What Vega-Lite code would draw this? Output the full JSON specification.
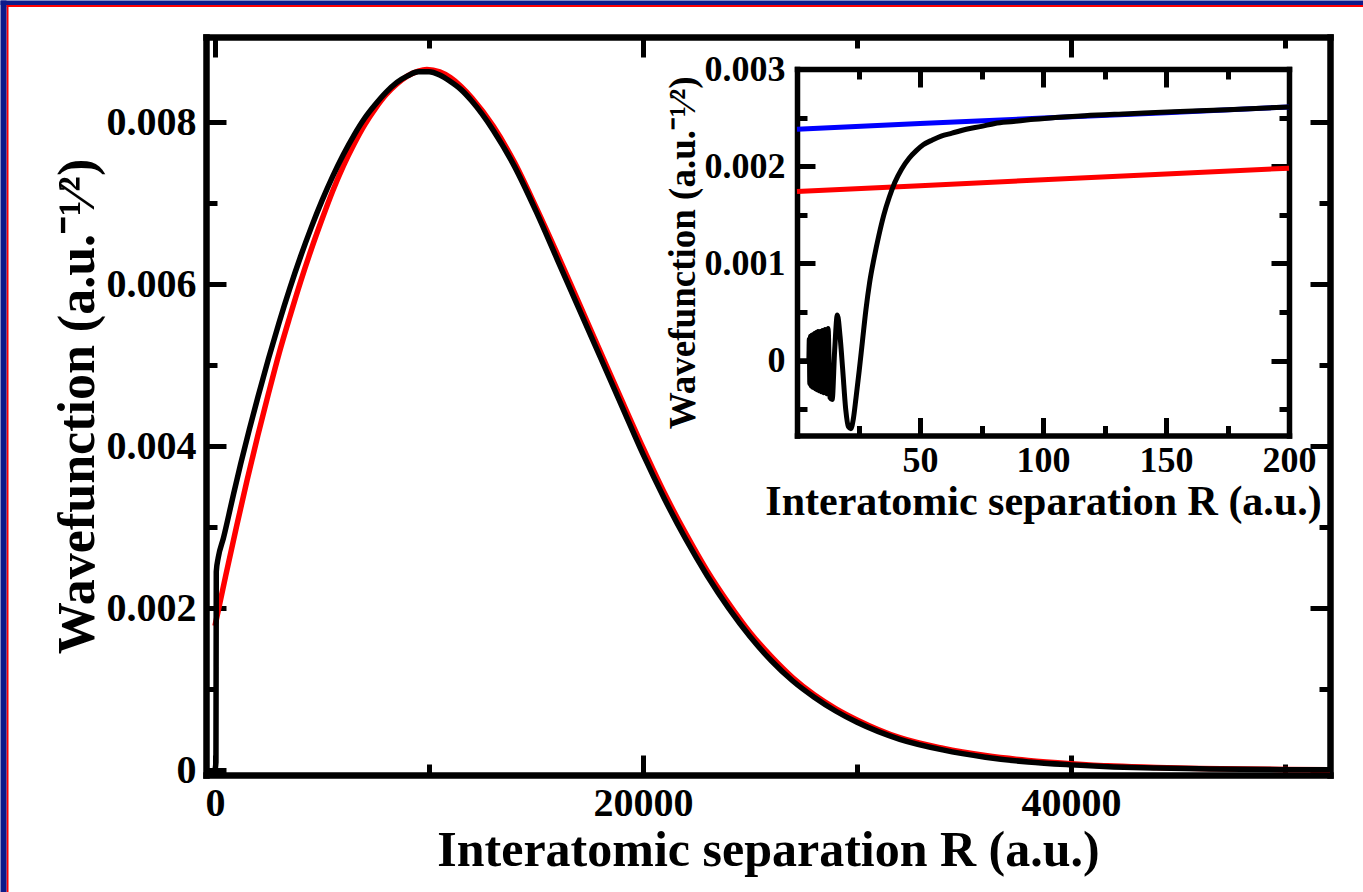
{
  "$schema": "https://vega.github.io/schema/vega-lite/v6.json",
  "width": 1124,
  "height": 738,
  "autosize": {"type": "none"},
  "padding": {"left": 206, "top": 37, "right": 33, "bottom": 117},
  "background": "white",
  "config": {
    "view": {"stroke": null},
    "axis": {
      "grid": false,
      "zindex": 1,
      "domainColor": "black",
      "tickColor": "black",
      "tickWidth": 5,
      "labelColor": "black",
      "labelFont": "Liberation Serif",
      "labelFontWeight": "bold",
      "titleColor": "black",
      "titleFont": "Liberation Serif",
      "titleFontWeight": "bold",
      "labelFlush": false,
      "labelOverlap": false,
      "domainCap": "square"
    }
  },
  "datasets": {
    "frame": [{"u": 0, "v": 0}, {"u": 1, "v": 1}],
    "main_red": [
      {"R": 0, "psi": 0.00178}, {"R": 500, "psi": 0.0024}, {"R": 1000, "psi": 0.003}, {"R": 1500, "psi": 0.00358},
      {"R": 2000, "psi": 0.00413}, {"R": 2500, "psi": 0.00465}, {"R": 3000, "psi": 0.00515}, {"R": 3500, "psi": 0.0056},
      {"R": 4000, "psi": 0.00603}, {"R": 4500, "psi": 0.00643}, {"R": 5000, "psi": 0.0068}, {"R": 5500, "psi": 0.00715},
      {"R": 6000, "psi": 0.00746}, {"R": 6500, "psi": 0.00773}, {"R": 7000, "psi": 0.00797}, {"R": 7500, "psi": 0.00817},
      {"R": 8000, "psi": 0.00834}, {"R": 8500, "psi": 0.00847}, {"R": 9000, "psi": 0.00857}, {"R": 9500, "psi": 0.00863},
      {"R": 9900, "psi": 0.00865}, {"R": 10500, "psi": 0.00862}, {"R": 11000, "psi": 0.00855}, {"R": 11500, "psi": 0.00844},
      {"R": 12000, "psi": 0.0083}, {"R": 13000, "psi": 0.00795}, {"R": 14000, "psi": 0.0075}, {"R": 15000, "psi": 0.00695},
      {"R": 16000, "psi": 0.00637}, {"R": 17000, "psi": 0.00577}, {"R": 18000, "psi": 0.00517}, {"R": 19000, "psi": 0.00457},
      {"R": 20000, "psi": 0.00398}, {"R": 21000, "psi": 0.00342}, {"R": 22000, "psi": 0.00292}, {"R": 23000, "psi": 0.00246},
      {"R": 24000, "psi": 0.00206}, {"R": 25000, "psi": 0.0017}, {"R": 26000, "psi": 0.0014}, {"R": 27000, "psi": 0.00114},
      {"R": 28000, "psi": 0.00093}, {"R": 29000, "psi": 0.00076}, {"R": 30000, "psi": 0.00062}, {"R": 32000, "psi": 0.0004},
      {"R": 34000, "psi": 0.00027}, {"R": 36000, "psi": 0.00018}, {"R": 38000, "psi": 0.00012}, {"R": 40000, "psi": 0.00008},
      {"R": 42000, "psi": 0.00005}, {"R": 44000, "psi": 0.000032}, {"R": 46000, "psi": 0.00002}, {"R": 48000, "psi": 0.000013},
      {"R": 50000, "psi": 0.000008}, {"R": 52100, "psi": 0.000005}
    ],
    "main_black": [
      {"R": 0, "psi": 0}, {"R": 45, "psi": 0.0001}, {"R": 60, "psi": 0.00245}, {"R": 150, "psi": 0.00262},
      {"R": 400, "psi": 0.00287}, {"R": 800, "psi": 0.00333}, {"R": 1200, "psi": 0.00378}, {"R": 1600, "psi": 0.0042},
      {"R": 2000, "psi": 0.0046}, {"R": 2500, "psi": 0.00508}, {"R": 3000, "psi": 0.00553}, {"R": 3500, "psi": 0.00595},
      {"R": 4000, "psi": 0.00634}, {"R": 4500, "psi": 0.0067}, {"R": 5000, "psi": 0.00703}, {"R": 5500, "psi": 0.00733},
      {"R": 6000, "psi": 0.0076}, {"R": 6500, "psi": 0.00784}, {"R": 7000, "psi": 0.00805}, {"R": 7500, "psi": 0.00822},
      {"R": 8000, "psi": 0.00837}, {"R": 8500, "psi": 0.00849}, {"R": 9000, "psi": 0.00857}, {"R": 9500, "psi": 0.00862},
      {"R": 10000, "psi": 0.00862}, {"R": 10500, "psi": 0.00858}, {"R": 11000, "psi": 0.0085}, {"R": 11500, "psi": 0.0084},
      {"R": 12000, "psi": 0.00826}, {"R": 13000, "psi": 0.0079}, {"R": 14000, "psi": 0.00745}, {"R": 15000, "psi": 0.0069},
      {"R": 16000, "psi": 0.0063}, {"R": 17000, "psi": 0.0057}, {"R": 18000, "psi": 0.0051}, {"R": 19000, "psi": 0.0045},
      {"R": 20000, "psi": 0.0039}, {"R": 21000, "psi": 0.00335}, {"R": 22000, "psi": 0.00285}, {"R": 23000, "psi": 0.0024},
      {"R": 24000, "psi": 0.002}, {"R": 25000, "psi": 0.00165}, {"R": 26000, "psi": 0.00135}, {"R": 27000, "psi": 0.0011},
      {"R": 28000, "psi": 0.0009}, {"R": 29000, "psi": 0.00073}, {"R": 30000, "psi": 0.00059}, {"R": 32000, "psi": 0.00038},
      {"R": 34000, "psi": 0.00025}, {"R": 36000, "psi": 0.00016}, {"R": 38000, "psi": 0.0001}, {"R": 40000, "psi": 0.000065},
      {"R": 42000, "psi": 0.00004}, {"R": 44000, "psi": 0.000025}, {"R": 46000, "psi": 0.000016}, {"R": 48000, "psi": 0.00001},
      {"R": 50000, "psi": 0.000006}, {"R": 52100, "psi": 0.000004}
    ],
    "inset_red": [
      {"R": 0, "psi": 0.00174}, {"R": 50, "psi": 0.0018}, {"R": 100, "psi": 0.00186}, {"R": 150, "psi": 0.00192}, {"R": 200, "psi": 0.00198}
    ],
    "inset_blue": [
      {"R": 0, "psi": 0.00238}, {"R": 50, "psi": 0.00244}, {"R": 100, "psi": 0.002495}, {"R": 150, "psi": 0.00255}, {"R": 200, "psi": 0.00261}
    ],
    "inset_black": [
      {"R": 0, "psi": 0}, {"R": 4.8, "psi": 0},
      {"R": 5.0, "psi": 0.00022}, {"R": 5.2, "psi": -0.00024}, {"R": 5.45, "psi": 0.00025}, {"R": 5.7, "psi": -0.00026},
      {"R": 5.95, "psi": 0.00026}, {"R": 6.2, "psi": -0.00027}, {"R": 6.5, "psi": 0.00027}, {"R": 6.8, "psi": -0.00028},
      {"R": 7.1, "psi": 0.00028}, {"R": 7.45, "psi": -0.00029}, {"R": 7.8, "psi": 0.00029}, {"R": 8.15, "psi": -0.0003},
      {"R": 8.55, "psi": 0.0003}, {"R": 8.95, "psi": -0.00031}, {"R": 9.4, "psi": 0.0003}, {"R": 9.85, "psi": -0.00032},
      {"R": 10.35, "psi": 0.00031}, {"R": 10.85, "psi": -0.00033}, {"R": 11.4, "psi": 0.00032}, {"R": 12.0, "psi": -0.00034},
      {"R": 12.65, "psi": 0.00033}, {"R": 13.4, "psi": -0.00038}, {"R": 14.3, "psi": -0.0004},
      {"R": 15.3, "psi": 0.0001}, {"R": 16.4, "psi": 0.00047}, {"R": 17.5, "psi": 0.00025}, {"R": 18.6, "psi": -0.0001},
      {"R": 19.8, "psi": -0.0005}, {"R": 20.9, "psi": -0.00068}, {"R": 21.9, "psi": -0.0007}, {"R": 22.9, "psi": -0.0006},
      {"R": 24.0, "psi": -0.00038}, {"R": 25.3, "psi": -0.0001}, {"R": 26.6, "psi": 0.0002}, {"R": 28.0, "psi": 0.00052},
      {"R": 29.5, "psi": 0.0008}, {"R": 31.3, "psi": 0.00105}, {"R": 33.2, "psi": 0.00128}, {"R": 35.3, "psi": 0.0015},
      {"R": 37.5, "psi": 0.00168}, {"R": 39.7, "psi": 0.00183}, {"R": 42.5, "psi": 0.00197}, {"R": 45.5, "psi": 0.00208},
      {"R": 48.5, "psi": 0.00216}, {"R": 51.3, "psi": 0.00222}, {"R": 55, "psi": 0.00227}, {"R": 58.6, "psi": 0.00231},
      {"R": 63, "psi": 0.00234}, {"R": 68.8, "psi": 0.00238}, {"R": 75, "psi": 0.00241}, {"R": 80.4, "psi": 0.00244},
      {"R": 88, "psi": 0.00246}, {"R": 95, "psi": 0.00248}, {"R": 105, "psi": 0.0025}, {"R": 117, "psi": 0.00252},
      {"R": 135, "psi": 0.00254}, {"R": 153, "psi": 0.00256}, {"R": 175, "psi": 0.00258}, {"R": 200, "psi": 0.00261}
    ]
  },
  "layer": [
    {
      "data": {"name": "frame"},
      "mark": {"type": "point", "opacity": 0},
      "encoding": {
        "x": {"field": "u", "type": "quantitative",
          "scale": {"domain": [0, 1], "range": [-200, 1157], "nice": false, "zero": false},
          "axis": {"orient": "top", "offset": 31.5, "ticks": false, "labels": false, "title": null,
            "domainColor": "#ff0000", "domainWidth": 2, "domainCap": "butt", "zindex": 2}},
        "y": {"field": "v", "type": "quantitative",
          "scale": {"domain": [0, 1], "range": [855, -32.5], "nice": false, "zero": false},
          "axis": {"orient": "left", "offset": 199, "ticks": false, "labels": false, "title": null,
            "domainColor": "#ff0000", "domainWidth": 2, "domainCap": "butt", "zindex": 2}}
      }
    },
    {
      "data": {"name": "frame"},
      "mark": {"type": "point", "opacity": 0},
      "encoding": {
        "x": {"field": "u", "type": "quantitative",
          "scale": {"domain": [0, 1], "range": [-206, 1157], "nice": false, "zero": false},
          "axis": {"orient": "top", "offset": 34.75, "ticks": false, "labels": false, "title": null,
            "domainColor": "#0e1a8a", "domainWidth": 4.5, "domainCap": "butt", "zindex": 3}},
        "y": {"field": "v", "type": "quantitative",
          "scale": {"domain": [0, 1], "range": [855, -37], "nice": false, "zero": false},
          "axis": {"orient": "left", "offset": 203, "ticks": false, "labels": false, "title": null,
            "domainColor": "#0e1a8a", "domainWidth": 6, "domainCap": "butt", "zindex": 3}}
      }
    },
    {
      "layer": [
        {
          "data": {"name": "main_red"},
          "mark": {"type": "line", "color": "#ff0000", "strokeWidth": 5.5, "interpolate": "monotone"},
          "encoding": {
            "x": {"field": "R", "type": "quantitative",
              "scale": {"domain": [-420, 52100], "nice": false, "zero": false},
              "axis": {"orient": "bottom", "values": [0, 20000, 40000], "format": "d",
                "tickSize": -20, "domainWidth": 6.5, "labelPadding": 28, "labelFontSize": 40,
                "title": "Interatomic separation R (a.u.)", "titleFontSize": 50, "titlePadding": 2}},
            "y": {"field": "psi", "type": "quantitative",
              "scale": {"domain": [-0.00006, 0.00905], "nice": false, "zero": false},
              "axis": {"orient": "left", "values": [0, 0.002, 0.004, 0.006, 0.008],
                "labelExpr": "datum.value == 0 ? '0' : format(datum.value, '.3f')",
                "tickSize": -20, "domainWidth": 6.5, "labelPadding": 30, "labelFontSize": 40,
                "title": "Wavefunction (a.u.⁻¹⁄²)", "titleFontSize": 52, "titlePadding": 2}}
          }
        },
        {
          "data": {"name": "main_black"},
          "mark": {"type": "line", "color": "black", "strokeWidth": 5.5, "interpolate": "monotone"},
          "encoding": {
            "x": {"field": "R", "type": "quantitative",
              "axis": {"orient": "bottom", "values": [10000, 30000, 50000], "labels": false, "domain": false,
                "tickSize": -11, "title": null}},
            "y": {"field": "psi", "type": "quantitative",
              "axis": {"orient": "left", "values": [0.001, 0.003, 0.005, 0.007], "labels": false, "domain": false,
                "tickSize": -11, "title": null}}
          }
        },
        {
          "data": {"name": "main_black"},
          "mark": {"type": "point", "opacity": 0},
          "encoding": {
            "x": {"field": "R", "type": "quantitative",
              "axis": {"orient": "top", "values": [0, 20000, 40000], "labels": false, "domainWidth": 6.5,
                "tickSize": -20, "title": null}},
            "y": {"field": "psi", "type": "quantitative",
              "axis": {"orient": "right", "values": [0, 0.002, 0.004, 0.006, 0.008], "labels": false, "domainWidth": 6.5,
                "tickSize": -20, "title": null}}
          }
        },
        {
          "data": {"name": "main_black"},
          "mark": {"type": "point", "opacity": 0},
          "encoding": {
            "x": {"field": "R", "type": "quantitative",
              "axis": {"orient": "top", "values": [10000, 30000, 50000], "labels": false, "domain": false,
                "tickSize": -11, "title": null}},
            "y": {"field": "psi", "type": "quantitative",
              "axis": {"orient": "right", "values": [0.001, 0.003, 0.005, 0.007], "labels": false, "domain": false,
                "tickSize": -11, "title": null}}
          }
        }
      ],
      "resolve": {"axis": {"x": "independent", "y": "independent"}}
    },
    {
      "layer": [
        {
          "data": {"name": "inset_red"},
          "mark": {"type": "line", "color": "#ff0000", "strokeWidth": 5},
          "encoding": {
            "x": {"field": "R", "type": "quantitative",
              "scale": {"domain": [0, 200], "range": [591, 1083], "nice": false, "zero": false},
              "axis": {"orient": "bottom", "offset": -339.5, "values": [50, 100, 150, 200], "format": "d",
                "tickSize": -18, "domainWidth": 5.5, "labelPadding": 26, "labelFontSize": 36,
                "title": "Interatomic separation R (a.u.)", "titleFontSize": 42, "titlePadding": 3}},
            "y": {"field": "psi", "type": "quantitative",
              "scale": {"domain": [-0.00077, 0.003], "range": [398.5, 32], "nice": false, "zero": false},
              "axis": {"orient": "left", "offset": -591, "values": [0, 0.001, 0.002, 0.003],
                "labelExpr": "datum.value == 0 ? '0' : format(datum.value, '.3f')",
                "tickSize": -18, "domainWidth": 5.5, "labelPadding": 30, "labelFontSize": 36,
                "title": "Wavefunction (a.u.⁻¹⁄²)", "titleFontSize": 37, "titlePadding": 2}}
          }
        },
        {
          "data": {"name": "inset_blue"},
          "mark": {"type": "line", "color": "#0000ff", "strokeWidth": 5},
          "encoding": {
            "x": {"field": "R", "type": "quantitative",
              "axis": {"orient": "bottom", "offset": -339.5, "values": [25, 75, 125, 175], "labels": false, "domain": false,
                "tickSize": -10, "title": null}},
            "y": {"field": "psi", "type": "quantitative",
              "axis": {"orient": "left", "offset": -591, "values": [-0.0005, 0.0005, 0.0015, 0.0025], "labels": false, "domain": false,
                "tickSize": -10, "title": null}}
          }
        },
        {
          "data": {"name": "inset_black"},
          "mark": {"type": "line", "color": "black", "strokeWidth": 5, "interpolate": "monotone"},
          "encoding": {
            "x": {"field": "R", "type": "quantitative",
              "axis": {"orient": "top", "offset": -32, "values": [50, 100, 150, 200], "labels": false, "domainWidth": 5.5,
                "tickSize": -18, "title": null}},
            "y": {"field": "psi", "type": "quantitative",
              "axis": {"orient": "right", "offset": -41, "values": [0, 0.001, 0.002, 0.003], "labels": false, "domainWidth": 5.5,
                "tickSize": -18, "title": null}}
          }
        },
        {
          "data": {"name": "inset_red"},
          "mark": {"type": "point", "opacity": 0},
          "encoding": {
            "x": {"field": "R", "type": "quantitative",
              "axis": {"orient": "top", "offset": -32, "values": [25, 75, 125, 175], "labels": false, "domain": false,
                "tickSize": -10, "title": null}},
            "y": {"field": "psi", "type": "quantitative",
              "axis": {"orient": "right", "offset": -41, "values": [-0.0005, 0.0005, 0.0015, 0.0025], "labels": false, "domain": false,
                "tickSize": -10, "title": null}}
          }
        }
      ],
      "resolve": {"axis": {"x": "independent", "y": "independent"}}
    }
  ],
  "resolve": {"scale": {"x": "independent", "y": "independent"}}
}
